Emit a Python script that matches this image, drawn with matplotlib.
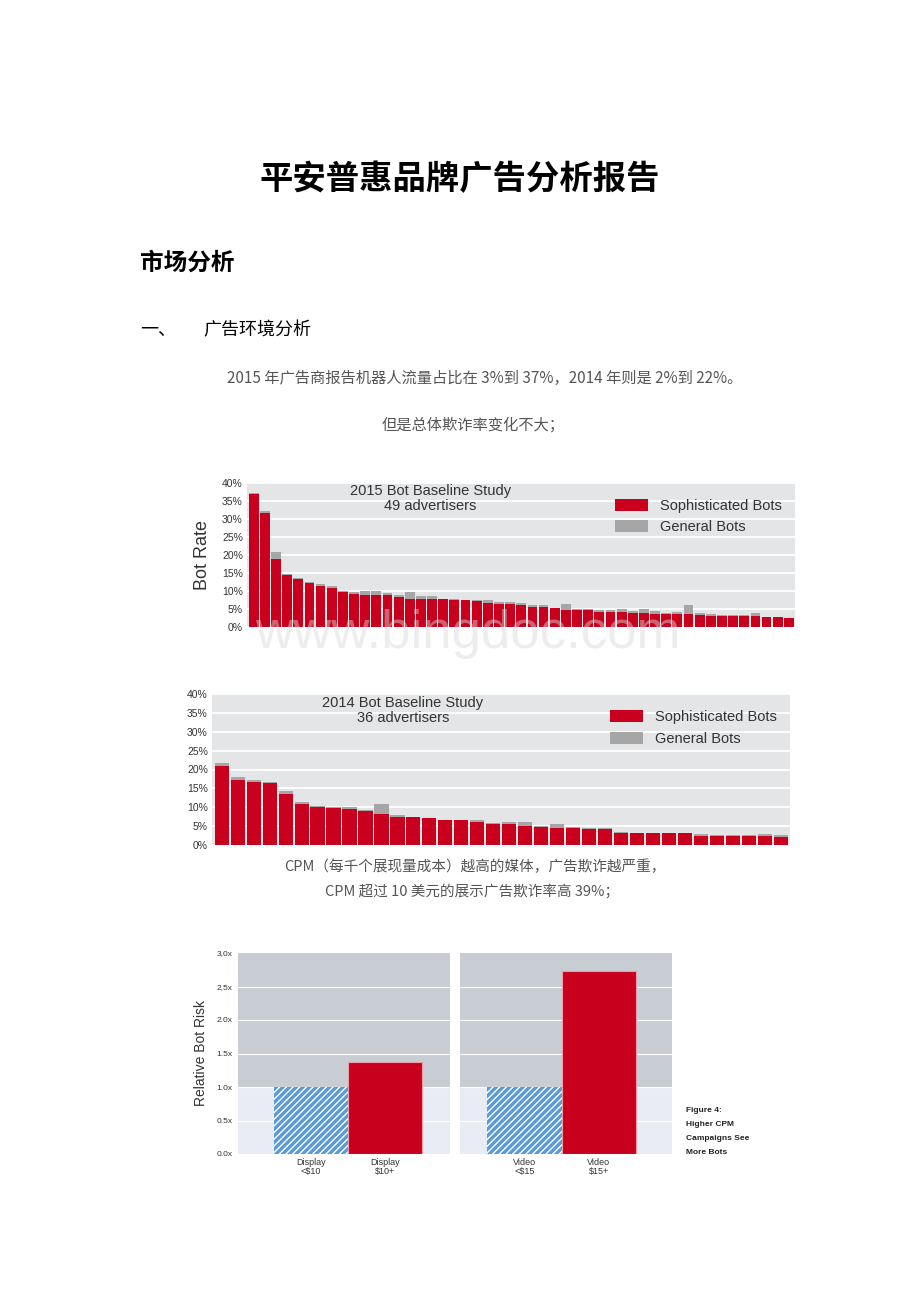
#!/usr/bin/env python3
import matplotlib
import matplotlib.pyplot as plt
import numpy as np
from matplotlib.patches import Patch

matplotlib.use('Agg')
plt.rcParams['font.family'] = ['Liberation Sans', 'Noto Sans CJK SC', 'DejaVu Sans']
plt.rcParams['hatch.linewidth'] = 1.0

W, H = 920, 1302
CJK = ['Noto Sans CJK SC', 'DejaVu Sans']
RED = '#c8001e'
GREY = '#a6a6a6'
BG = '#e4e5e7'

# 2015 study, 49 advertisers (percent)
soph_2015 = [37.0, 31.7, 19.0, 14.5, 13.3, 12.3, 11.4, 10.8, 9.8, 9.2,
             8.9, 8.9, 8.9, 8.3, 7.9, 7.7, 7.7, 7.7, 7.4, 7.4,
             7.1, 6.8, 6.4, 6.4, 6.0, 5.5, 5.5, 5.2, 4.8, 4.6,
             4.6, 4.2, 4.2, 4.2, 3.8, 3.8, 3.5, 3.5, 3.5, 3.5,
             3.2, 3.0, 3.0, 3.0, 3.0, 3.0, 2.7, 2.7, 2.4]
total_2015 = [37.2, 32.3, 20.8, 14.7, 13.5, 12.6, 11.9, 11.3, 10.1, 9.6,
              10.1, 10.1, 9.4, 8.9, 9.8, 8.6, 8.6, 7.9, 7.9, 7.6,
              7.6, 7.6, 7.0, 7.0, 6.6, 6.1, 6.1, 5.4, 6.4, 5.1,
              5.1, 4.6, 4.8, 5.1, 4.5, 5.1, 4.5, 4.0, 4.3, 6.0,
              3.9, 3.6, 3.2, 3.2, 3.2, 3.8, 2.9, 2.9, 2.5]

# 2014 study, 36 advertisers (percent)
soph_2014 = [21.0, 17.3, 16.7, 16.3, 13.6, 10.8, 10.1, 9.9, 9.5, 9.0,
             8.3, 7.4, 7.4, 7.1, 6.5, 6.5, 6.1, 5.5, 5.5, 5.1,
             4.9, 4.5, 4.6, 4.3, 4.3, 3.3, 3.1, 3.1, 3.1, 3.1,
             2.5, 2.5, 2.5, 2.5, 2.5, 2.0]
total_2014 = [21.6, 17.9, 17.3, 16.7, 14.2, 11.4, 10.4, 10.1, 10.1, 9.2,
              10.8, 8.0, 7.5, 7.2, 6.6, 6.6, 6.6, 5.8, 6.1, 6.1,
              5.0, 5.5, 4.7, 4.4, 4.4, 3.5, 3.2, 3.2, 3.2, 3.2,
              3.0, 2.6, 2.6, 2.6, 3.0, 2.6]

cpm_display_labels = ['Display\n<$10', 'Display\n$10+']
cpm_display_values = [1.0, 1.38]
cpm_video_labels = ['Video\n<$15', 'Video\n$15+']
cpm_video_values = [1.0, 2.73]
cpm_ticks = [0.0, 0.5, 1.0, 1.5, 2.0, 2.5, 3.0]
cpm_tick_labels = ['0.0x', '0.5x', '1.0x', '1.5x', '2.0x', '2,5x', '3,0x']


def rect(x0, y0, x1, y1):
    return [x0 / W, 1 - y1 / H, (x1 - x0) / W, (y1 - y0) / H]


def ftext(x, y, s, **kw):
    fig.text(x / W, 1 - y / H, s, **kw)


fig = plt.figure(figsize=(W / 100, H / 100), dpi=100)

# document text
ftext(460, 180, '平安普惠品牌广告分析报告', family=CJK, fontsize=24,
      fontweight=900, ha='center', va='center')
ftext(140, 263, '市场分析', family=CJK, fontsize=17, fontweight=900,
      ha='left', va='center')
ftext(140, 330, '一、', family=CJK, fontsize=13, ha='left', va='center')
ftext(203, 330, '广告环境分析', family=CJK, fontsize=13, ha='left', va='center')
ftext(485, 378, '2015 年广告商报告机器人流量占比在 3%到 37%，2014 年则是 2%到 22%。',
      family=CJK, fontsize=11, color='#555555', ha='center', va='center')
ftext(473, 425, '但是总体欺诈率变化不大；', family=CJK, fontsize=11,
      color='#555555', ha='center', va='center')
ftext(475, 867, 'CPM（每千个展现量成本）越高的媒体，广告欺诈越严重，',
      family=CJK, fontsize=10.5, color='#555555', ha='center', va='center')
ftext(472, 891, 'CPM 超过 10 美元的展示广告欺诈率高 39%；',
      family=CJK, fontsize=10.5, color='#555555', ha='center', va='center')


def bot_chart(box, soph, total, title, title_x, ylabel=None):
    ax = fig.add_axes(rect(*box))
    x = np.arange(len(soph))
    extra = np.array(total) - np.array(soph)
    ax.bar(x, soph, width=0.88, color=RED, edgecolor='none', zorder=3)
    ax.bar(x, extra, bottom=soph, width=0.88, color=GREY, edgecolor='none',
           zorder=3)
    ax.set_facecolor(BG)
    ax.set_ylim(0, 40)
    ax.set_xlim(-0.6, len(soph) - 0.45)
    ax.set_yticks(range(0, 41, 5))
    ax.set_yticklabels([f'{v}%' for v in range(0, 41, 5)], fontsize=7.5,
                       color='#333333')
    ax.set_xticks([])
    ax.grid(axis='y', color='white', linewidth=1.3, zorder=0)
    ax.tick_params(axis='y', length=0, pad=3)
    for s in ax.spines.values():
        s.set_visible(False)
    ax.text(title_x, 0.89, title, transform=ax.transAxes, ha='center',
            va='center', fontsize=10.5, color='#333333', linespacing=1.1)
    handles = [Patch(facecolor=RED, label='Sophisticated Bots'),
               Patch(facecolor=GREY, label='General Bots')]
    ax.legend(handles=handles, loc='upper right', frameon=False,
              fontsize=10.5, handlelength=2.3, handleheight=0.9,
              labelspacing=0.5, bbox_to_anchor=(1.0, 0.98),
              labelcolor='#333333')
    if ylabel:
        ax.set_ylabel(ylabel, fontsize=13, color='#333333', labelpad=8)
    return ax


bot_chart((247, 483, 795, 627), soph_2015, total_2015,
          '2015 Bot Baseline Study\n49 advertisers', 0.335, ylabel='Bot Rate')
bot_chart((212, 694, 790, 845), soph_2014, total_2014,
          '2014 Bot Baseline Study\n36 advertisers', 0.33)


def cpm_panel(box, labels, values, xlim, show_y):
    ax = fig.add_axes(rect(*box))
    ax.axhspan(1.0, 3.0, color='#c8ccd3', zorder=0, lw=0)
    ax.axhspan(0.0, 1.0, color='#e9ecf4', zorder=0, lw=0)
    for v in cpm_ticks[1:-1]:
        ax.axhline(v, color='white', lw=0.8, zorder=1)
    ax.bar([0.5], [values[0]], width=1.0, color='#5a9ad6', edgecolor='white',
           hatch='/////', linewidth=0, zorder=2)
    ax.bar([1.5], [values[1]], width=1.0, color=RED, edgecolor='#e8a0a8',
           linewidth=0.8, zorder=2)
    ax.set_xlim(*xlim)
    ax.set_ylim(0, 3.0)
    ax.set_xticks([0.5, 1.5])
    ax.set_xticklabels(labels, fontsize=6.5, color='#333333', linespacing=0.95)
    ax.tick_params(axis='x', length=0, pad=3)
    ax.set_yticks(cpm_ticks)
    if show_y:
        ax.set_yticklabels(cpm_tick_labels, fontsize=6, color='#333333')
        ax.tick_params(axis='y', length=0, pad=4)
        ax.set_ylabel('Relative Bot Risk', fontsize=10, color='#333333',
                      labelpad=6)
    else:
        ax.set_yticklabels([])
        ax.tick_params(axis='y', length=0)
    for s in ax.spines.values():
        s.set_visible(False)
    return ax


cpm_panel((238, 953, 450, 1154), cpm_display_labels, cpm_display_values,
          (-0.48, 2.37), True)
cpm_panel((460, 953, 672, 1154), cpm_video_labels, cpm_video_values,
          (-0.36, 2.48), False)

ftext(686, 1110, 'Figure 4:', fontsize=6, fontweight='bold',
      color='#222222', va='center')
ftext(686, 1124, 'Higher CPM', fontsize=6, fontweight='bold',
      color='#222222', va='center')
ftext(686, 1138, 'Campaigns See', fontsize=6, fontweight='bold',
      color='#222222', va='center')
ftext(686, 1152, 'More Bots', fontsize=6, fontweight='bold',
      color='#222222', va='center')

# faint watermark across the first chart
ftext(468, 634, 'www.bingdoc.com', fontsize=38, color='#d8d8d8', alpha=0.45,
      ha='center', va='center', zorder=10)

fig.savefig('out.png', dpi=100)
